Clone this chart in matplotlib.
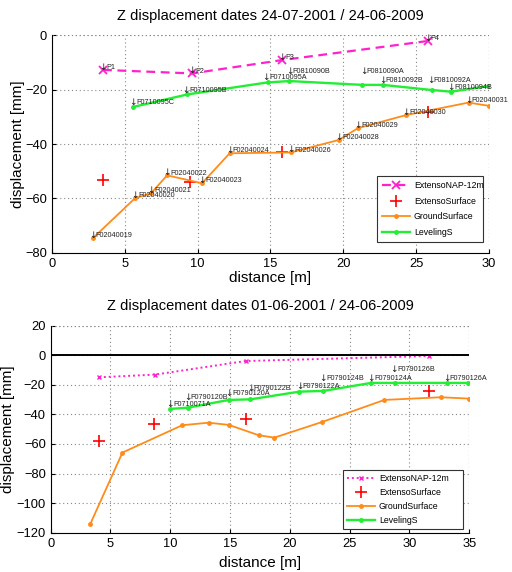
import matplotlib
matplotlib.use("Agg")
import matplotlib.pyplot as plt

plt.rcParams['font.family'] = ['Liberation Sans', 'DejaVu Sans']

# ---------------- Top chart data ----------------
t_title = "Z displacement dates 24-07-2001 / 24-06-2009"
t_nap_x = [3.5, 9.6, 15.8, 25.8]
t_nap_y = [-12.8, -14.1, -9.2, -2.2]
t_nap_names = ["P1", "P2", "P3", "P4"]

t_surf_x = [3.5, 9.5, 15.8, 25.8]
t_surf_y = [-53.2, -54.1, -43.0, -28.1]

t_ground_x = [2.8, 5.7, 6.8, 7.9, 10.3, 12.2, 16.4, 19.7, 21.0, 24.3, 28.6, 30.0]
t_ground_y = [-74.6, -59.9, -58.1, -51.5, -54.4, -43.4, -43.1, -38.5, -34.2, -29.4, -24.8, -26.0]
t_ground_names = ["F02040019", "F02040020", "F02040021", "F02040022", "F02040023",
                  "F02040024", "F02040026", "F02040028", "F02040029", "F02040030",
                  "F02040031"]

t_lev_x = [5.57, 9.3, 14.8, 16.3, 21.3, 22.7, 26.1, 27.4, 30.0]
t_lev_y = [-26.4, -21.8, -17.4, -16.9, -18.3, -18.3, -20.2, -20.8, -18.7]
t_lev_names = ["F0710095C", "F0710095B", "F0710095A", "F0810090B", "F0810090A",
               "F0810092B", "F0810092A", "F0810094B"]
t_lev_lab_x = [5.58, 9.2, 14.7, 16.3, 21.4, 22.7, 26.0, 27.4]
t_lev_lab_y = [-25.7, -21.2, -16.5, -14.3, -14.3, -17.7, -17.7, -20.2]

# ---------------- Bottom chart data ----------------
b_title = "Z displacement dates 01-06-2001 / 24-06-2009"
b_nap_x = [4.04, 8.7, 16.3, 31.6]
b_nap_y = [-14.9, -13.1, -3.9, -0.5]

b_surf_x = [4.04, 8.66, 16.3, 31.6]
b_surf_y = [-57.9, -46.7, -42.8, -24.1]

b_ground_x = [3.3, 6.0, 11.0, 13.2, 14.9, 17.4, 18.7, 22.7, 27.9, 32.6, 35.0]
b_ground_y = [-114.3, -65.8, -47.3, -45.6, -47.1, -54.1, -55.7, -45.1, -30.2, -28.4, -29.3]

b_lev_x = [10.0, 11.5, 14.9, 16.7, 20.8, 22.8, 26.8, 28.8, 33.1, 34.9]
b_lev_y = [-36.3, -35.4, -30.2, -29.8, -24.6, -24.1, -18.7, -18.7, -18.7, -18.7]
b_lev_names = ["F0710071A", "F0790120B", "F0790120A", "F0790122B", "F0790122A",
               "F0790124B", "F0790124A", "F0790126B", "F0790126A"]
b_lev_lab_x = [9.97, 11.45, 14.9, 16.7, 20.8, 22.8, 26.8, 28.7, 33.1]
b_lev_lab_y = [-35.0, -30.2, -27.5, -24.1, -23.0, -17.4, -17.4, -11.1, -17.4]

legend_names = ["ExtensoNAP-12m", "ExtensoSurface", "GroundSurface", "LevelingS"]

PINK = "#ff22cc"
RED = "#ff0000"
ORANGE = "#ff8c1a"
GREEN = "#22ee33"
GRID = (0, (1, 2.5))

fig = plt.figure(figsize=(5.12, 5.72), dpi=100)


def style_axes(ax, xlim, ylim, xticks, yticks, title, xlabelpad, ylabel_x):
    ax.set_xlim(*xlim)
    ax.set_ylim(*ylim)
    ax.set_xticks(xticks)
    ax.set_yticks(yticks)
    ax.grid(True, linestyle=GRID, color="#888888", linewidth=0.8)
    ax.spines['top'].set_visible(False)
    ax.spines['right'].set_visible(False)
    ax.axhline(ylim[1], color="#888888", linestyle=GRID, linewidth=0.8)
    ax.axvline(xlim[1], color="#888888", linestyle=GRID, linewidth=0.8)
    ax.tick_params(direction="in", length=3, labelsize=9.3, width=0.8)
    ax.set_title(title, fontsize=10.5, pad=11)
    ax.set_xlabel("distance [m]", fontsize=11, labelpad=xlabelpad)
    ax.set_ylabel("displacement [mm]", fontsize=11)
    ax.yaxis.set_label_coords(ylabel_x, 0.5)


def labels(ax, xs, ys, names):
    for x, y, n in zip(xs, ys, names):
        ax.text(x, y, "\u2193", fontsize=6.5, ha="center", va="baseline",
                family=["DejaVu Sans"], color="#222222")
        ax.annotate(n, (x, y), xytext=(2.2, 0.6), textcoords="offset points",
                    fontsize=5.2, ha="left", va="baseline", color="#222222")


# ---------------- Top axes ----------------
ax1 = fig.add_axes([0.1016, 0.5577, 0.955 - 0.1016, 0.9388 - 0.5577])
ax1.plot(t_nap_x, t_nap_y, color=PINK, linestyle=(0, (4, 2.5)), linewidth=1.6,
         marker="x", markersize=6, markeredgewidth=1.3, label=legend_names[0])
ax1.plot(t_surf_x, t_surf_y, color=RED, linestyle="none", marker="+",
         markersize=8, markeredgewidth=1.2, label=legend_names[1])
ax1.plot(t_ground_x, t_ground_y, color=ORANGE, linewidth=1.3, marker="o",
         markersize=2.5, label=legend_names[2])
ax1.plot(t_lev_x, t_lev_y, color=GREEN, linewidth=1.7, marker="o",
         markersize=2.5, label=legend_names[3])
labels(ax1, t_nap_x, t_nap_y, t_nap_names)
labels(ax1, t_ground_x[:-1], t_ground_y[:-1], t_ground_names)
labels(ax1, t_lev_lab_x, t_lev_lab_y, t_lev_names)
style_axes(ax1, (0, 30), (-80, 0), range(0, 31, 5), range(-80, 1, 20), t_title,
           1, -0.062)
leg1 = ax1.legend(loc="lower left", bbox_to_anchor=(0.744, 0.05, 0.243, 0.3), fontsize=6.3,
                  fancybox=False, framealpha=1, edgecolor="#333333", handlelength=3.2,
                  borderpad=0.6, labelspacing=0.75, handletextpad=0.4, mode="expand",
                  borderaxespad=0)
leg1.get_frame().set_linewidth(0.8)

# ---------------- Bottom axes ----------------
ax2 = fig.add_axes([0.099, 0.0687, 0.9166 - 0.099, 0.4306 - 0.0687])
ax2.axhline(0, color="black", linewidth=1.4, zorder=2.2)
ax2.plot(b_nap_x, b_nap_y, color=PINK, linestyle=(0, (1, 1.5)), linewidth=1.4,
         marker="x", markersize=3.5, markeredgewidth=1.0, label=legend_names[0])
ax2.plot(b_surf_x, b_surf_y, color=RED, linestyle="none", marker="+",
         markersize=8, markeredgewidth=1.2, label=legend_names[1])
ax2.plot(b_ground_x, b_ground_y, color=ORANGE, linewidth=1.3, marker="o",
         markersize=2.5, label=legend_names[2])
ax2.plot(b_lev_x, b_lev_y, color=GREEN, linewidth=1.7, marker="o",
         markersize=2.5, label=legend_names[3])
labels(ax2, b_lev_lab_x, b_lev_lab_y, b_lev_names)
style_axes(ax2, (0, 35), (-120, 20), range(0, 36, 5), range(-120, 21, 20), b_title,
           4.5, -0.085)
leg2 = ax2.legend(loc="lower left", bbox_to_anchor=(0.698, 0.018, 0.287, 0.285), fontsize=6.3,
                  fancybox=False, framealpha=1, edgecolor="#333333", handlelength=3.2,
                  borderpad=0.5, labelspacing=0.55, handletextpad=0.4, mode="expand",
                  borderaxespad=0)
leg2.get_frame().set_linewidth(0.8)

fig.savefig("out.png", dpi=100)
